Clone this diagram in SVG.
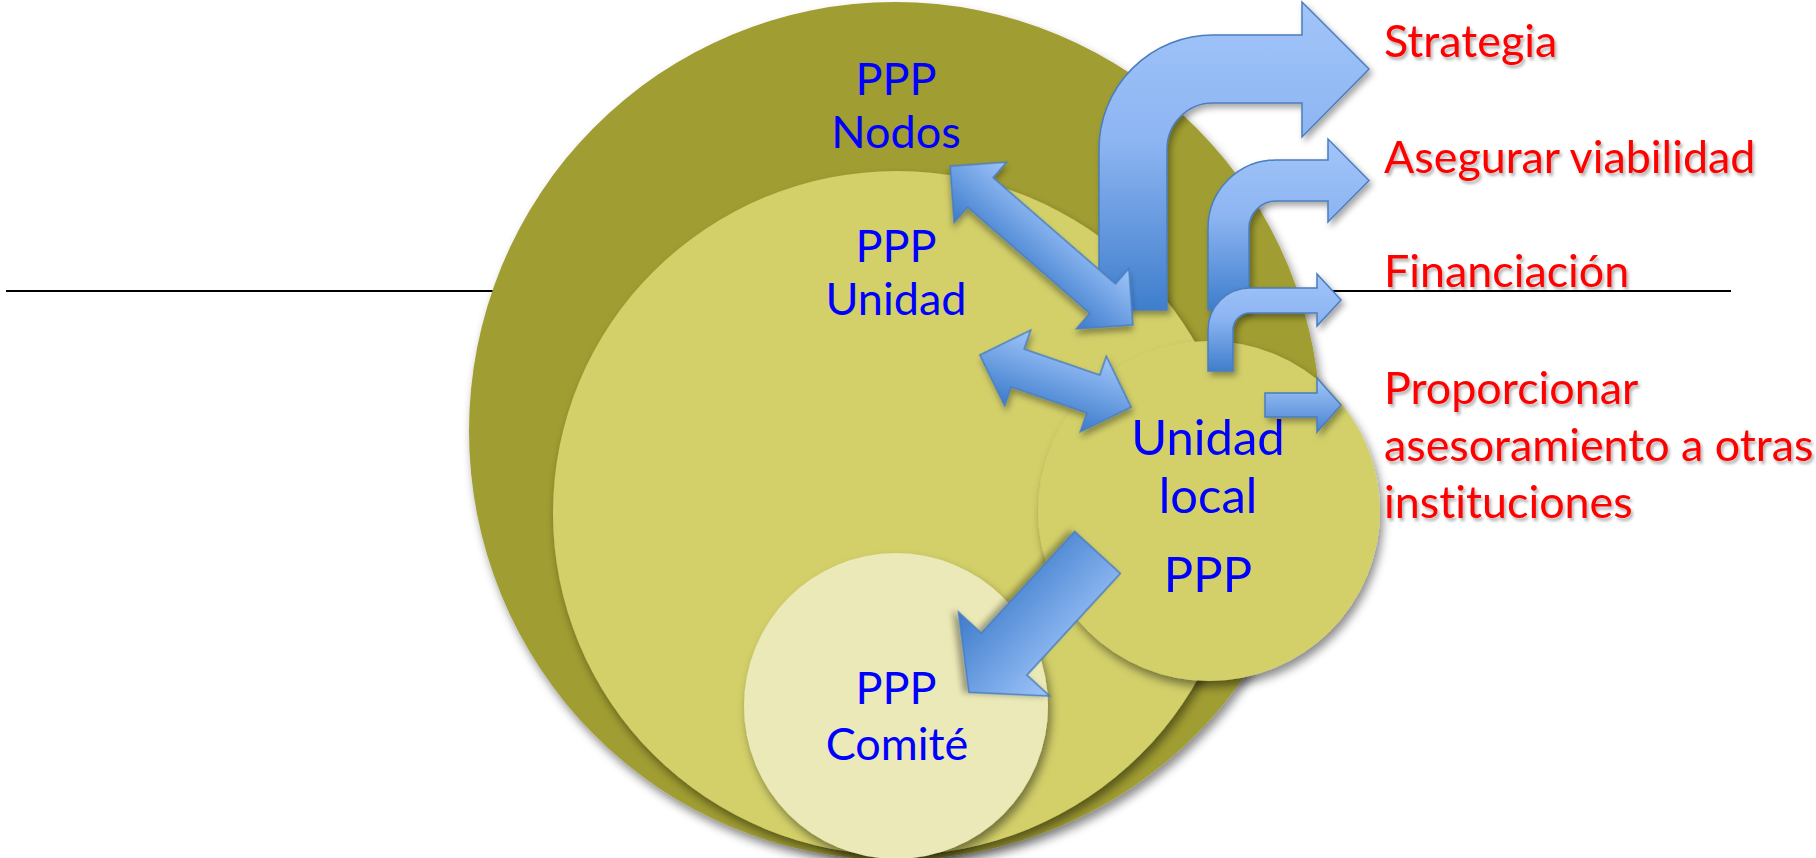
<svg xmlns="http://www.w3.org/2000/svg" width="1816" height="858" viewBox="0 0 1816 858">
<defs>
<style>
text{font-family:Lato,"Open Sans","Liberation Sans",sans-serif;font-variant-ligatures:none;font-feature-settings:"liga" 0,"clig" 0}
.blue{fill:#0000FF;text-anchor:middle;font-size:45px}
.blueL{fill:#0000FF;text-anchor:middle;font-size:49px}
.red{fill:#FF0000;font-size:44.8px;filter:url(#tshadow)}
.arrow{stroke:#4A7EBF;stroke-width:1.5;stroke-linejoin:miter;filter:url(#ashadow)}
</style>
<filter id="eshadow" x="-10%" y="-10%" width="125%" height="125%">
<feDropShadow dx="3" dy="6" stdDeviation="5" flood-color="#000" flood-opacity="0.45"/>
</filter>
<filter id="ashadow" x="-20%" y="-20%" width="150%" height="150%">
<feDropShadow dx="3" dy="4" stdDeviation="3" flood-color="#000" flood-opacity="0.35"/>
</filter>
<filter id="tshadow" x="-5%" y="-20%" width="115%" height="150%">
<feDropShadow dx="2" dy="3" stdDeviation="1.8" flood-color="#000" flood-opacity="0.3"/>
</filter>
<linearGradient id="gv" x1="0" y1="0" x2="0" y2="1">
<stop offset="0" stop-color="#A2C5F9"/>
<stop offset="0.45" stop-color="#8DB5F2"/>
<stop offset="1" stop-color="#3F7ECC"/>
</linearGradient>
<linearGradient id="gp" x1="0" y1="0" x2="0" y2="1">
<stop offset="0" stop-color="#A3C7FA"/>
<stop offset="1" stop-color="#4A84D2"/>
</linearGradient>
<linearGradient id="gd" x1="0" y1="0" x2="0" y2="1">
<stop offset="0" stop-color="#A0C5FA"/>
<stop offset="1" stop-color="#3C7BCB"/>
</linearGradient>
</defs>
<rect width="1816" height="858" fill="#FFFFFF"/>
<line x1="6" y1="291" x2="1731" y2="291" stroke="#000" stroke-width="2"/>
<g id="node-nodos">
<ellipse cx="895" cy="431" rx="426" ry="429" fill="#A09D33" filter="url(#eshadow)"/>
<text class="blue" x="896" y="95">PPP</text>
<text class="blue" x="896" y="148">Nodos</text>
</g>
<g id="node-unidad">
<ellipse cx="897" cy="513" rx="344" ry="342" fill="#D3D06A" filter="url(#eshadow)"/>
<text class="blue" x="896" y="262">PPP</text>
<text class="blue" x="896" y="315">Unidad</text>
</g>
<g id="node-comite">
<ellipse cx="896" cy="706" rx="152" ry="153" fill="#EBE9B7" filter="url(#eshadow)"/>
<text class="blue" x="896" y="704">PPP</text>
<text class="blue" x="897" y="760">Comité</text>
</g>
<g id="node-local">
<ellipse cx="1209" cy="511" rx="171" ry="170" fill="#D3D06A" filter="url(#eshadow)"/>
<text class="blueL" x="1208" y="455">Unidad</text>
<text class="blueL" x="1208" y="513">local</text>
<text class="blueL" x="1208" y="592">PPP</text>
</g>
<g id="connectors">
<path class="arrow" fill="url(#gv)" d="M1099,310 L1099,149 A114,114 0 0 1 1213,35 L1302,35 L1302,2 L1369,69 L1302,137 L1302,103 L1213,103 A46,46 0 0 0 1167,149 L1167,310 Z"/>
<path class="arrow" fill="url(#gv)" d="M1208,310 L1208,228 A68,68 0 0 1 1276,160 L1328,160 L1328,139 L1369,180.5 L1328,222 L1328,201 L1276,201 A27,27 0 0 0 1249,228 L1249,310 Z"/>
<path class="arrow" fill="url(#gv)" d="M1208,371 L1208,330 A42,42 0 0 1 1250,288 L1317,288 L1317,274 L1341,300 L1317,326 L1317,313 L1250,313 A17,17 0 0 0 1233,330 L1233,371 Z"/>
<path class="arrow" fill="url(#gp)" d="M1265,393 L1317,393 L1317,378 L1341,405 L1317,432 L1317,417 L1265,417 Z"/>
<polygon class="arrow" fill="url(#gd)" transform="translate(1041.5,245.5) rotate(41)" points="-121,0 -81,-40 -81,-19.5 81,-19.5 81,-40 121,0 81,40 81,19.5 -81,19.5 -81,40"/>
<polygon class="arrow" fill="url(#gd)" transform="translate(1055.5,381) rotate(19)" points="-80,0 -40,-40 -40,-20 40,-20 40,-40 80,0 40,40 40,20 -40,20 -40,40"/>
<polygon class="arrow" fill="url(#gd)" transform="translate(1097.5,552.5) rotate(132.6)" points="0,-31 138,-31 138,-62 190,0 138,62 138,31 0,31"/>
</g>
<g id="label-strategia"><text class="red" x="1384" y="57">Strategia</text></g>
<g id="label-viabilidad"><text class="red" x="1384" y="173">Asegurar viabilidad</text></g>
<g id="label-financiacion"><text class="red" x="1384" y="287">Financiación</text></g>
<g id="label-asesoramiento">
<text class="red" x="1384" y="404">Proporcionar</text>
<text class="red" x="1384" y="461">asesoramiento a otras</text>
<text class="red" x="1384" y="518">instituciones</text>
</g>
</svg>
